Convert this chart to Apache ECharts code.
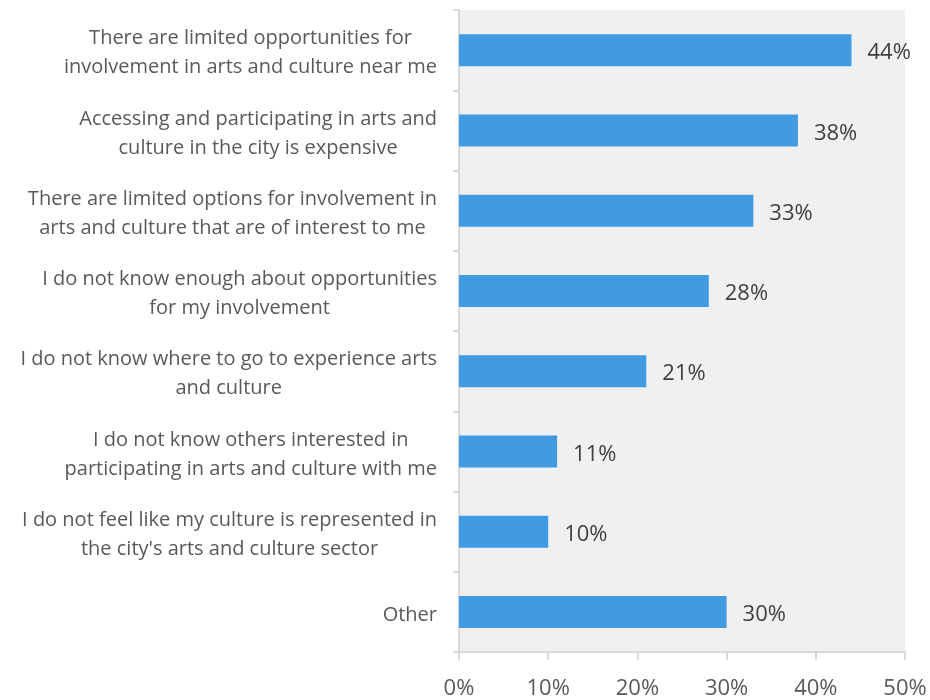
<!DOCTYPE html>
<html>
<head>
<meta charset="utf-8">
<script src="https://cdn.jsdelivr.net/npm/echarts@6/dist/echarts.min.js"></script>
<style>
  html, body { margin: 0; padding: 0; background: #fff; }
  #chart { width: 930px; height: 700px; }
</style>
</head>
<body>
<div id="chart"></div>
<script>
// Barriers to taking part in arts and culture (share of respondents, %)
const categories = [
  'There are limited opportunities for\ninvolvement in arts and culture near me',
  'Accessing and participating in arts and\nculture in the city is expensive',
  'There are limited options for involvement in\narts and culture that are of interest to me',
  'I do not know enough about opportunities\nfor my involvement',
  'I do not know where to go to experience arts\nand culture',
  'I do not know others interested in\nparticipating in arts and culture with me',
  'I do not feel like my culture is represented in\nthe city\'s arts and culture sector',
  'Other'
];
const values = [44, 38, 33, 28, 21, 11, 10, 30];
const xTicks = [0, 10, 20, 30, 40, 50];

const FONT = '"Open Sans", "Noto Sans", sans-serif';
const chart = echarts.init(document.getElementById('chart'));

chart.setOption({
  animation: false,
  grid: {
    left: 459, right: 25, top: 10, bottom: 47,
    show: true, backgroundColor: '#f0f0f0', borderWidth: 0
  },
  xAxis: {
    type: 'value',
    min: xTicks[0],
    max: xTicks[xTicks.length - 1],
    interval: xTicks[1] - xTicks[0],
    splitLine: { show: false },
    axisLine: { show: true, lineStyle: { color: '#d9d9d9', width: 2 } },
    axisTick: { show: true, length: 8, lineStyle: { color: '#d9d9d9', width: 2 } },
    axisLabel: {
      margin: 26,
      fontFamily: FONT, fontSize: 22, color: '#595959',
      formatter: v => v + '%'
    }
  },
  yAxis: {
    type: 'category',
    inverse: true,
    data: categories,
    axisLine: { show: true, lineStyle: { color: '#d9d9d9', width: 2 } },
    axisTick: { show: true, length: 6, lineStyle: { color: '#d9d9d9', width: 2 } },
    axisLabel: {
      margin: 22,
      padding: [6, 0, 0, 0],
      fontFamily: FONT, fontSize: 20, color: '#595959',
      lineHeight: 29,
      formatter: s => s.split('\n').map(l => '{c|' + l + '}').join('\n'),
      rich: {
        c: { align: 'center', fontFamily: FONT, fontSize: 20, color: '#595959', lineHeight: 29 }
      }
    }
  },
  series: [{
    type: 'bar',
    data: values,
    barWidth: 32,
    itemStyle: { color: '#409be3' },
    label: {
      show: true,
      position: 'right',
      distance: 16,
      offset: [0, 3],
      fontFamily: FONT, fontSize: 22, color: '#404040',
      formatter: p => p.value + '%'
    }
  }]
});
</script>
</body>
</html>
